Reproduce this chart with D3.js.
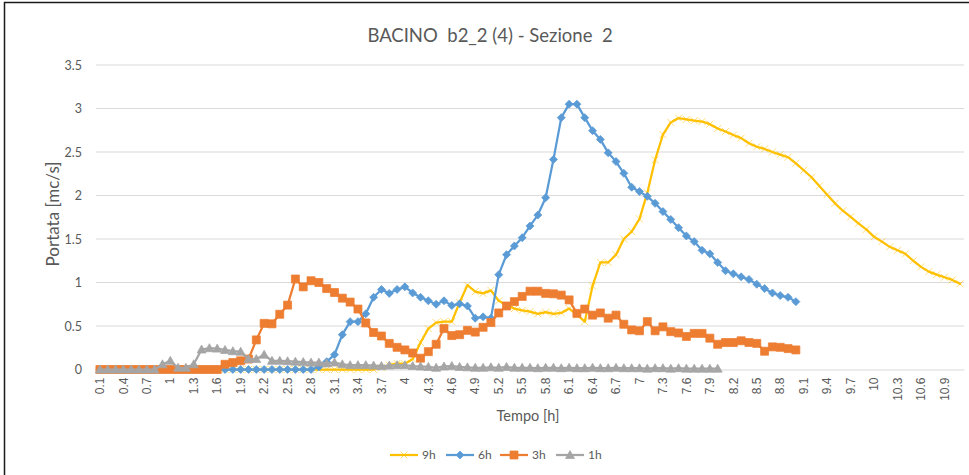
<!DOCTYPE html>
<html>
<head>
<meta charset="utf-8">
<script src="https://cdn.jsdelivr.net/npm/d3@7"></script>
<style>
  html, body { margin: 0; padding: 0; background: #fff; }
  svg { display: block; font-family: Lato, "Liberation Sans", sans-serif; }
</style>
</head>
<body>
<svg id="chart" width="969" height="475"></svg>
<script>
// Time steps on the category axis (hours)
const tempo = [
  "0.1","0.2","0.3","0.4","0.5","0.6","0.7","0.8","0.9","1",
  "1.1","1.2","1.3","1.4","1.5","1.6","1.7","1.8","1.9","2",
  "2.1","2.2","2.3","2.4","2.5","2.6","2.7","2.8","2.9","3",
  "3.1","3.2","3.3","3.4","3.5","3.6","3.7","3.8","3.9","4",
  "4.1","4.2","4.3","4.4","4.5","4.6","4.7","4.8","4.9","5",
  "5.1","5.2","5.3","5.4","5.5","5.6","5.7","5.8","5.9","6",
  "6.1","6.2","6.3","6.4","6.5","6.6","6.7","6.8","6.9","7",
  "7.1","7.2","7.3","7.4","7.5","7.6","7.7","7.8","7.9","8",
  "8.1","8.2","8.3","8.4","8.5","8.6","8.7","8.8","8.9","9",
  "9.1","9.2","9.3","9.4","9.5","9.6","9.7","9.8","9.9","10",
  "10.1","10.2","10.3","10.4","10.5","10.6","10.7","10.8","10.9","11",
  "11.1"
];

// Labelled ticks on the time axis
const xTickLabels = [
  "0.1","0.4","0.7","1","1.3","1.6","1.9","2.2","2.5","2.8","3.1","3.4","3.7","4",
  "4.3","4.6","4.9","5.2","5.5","5.8","6.1","6.4","6.7","7","7.3","7.6","7.9","8.2",
  "8.5","8.8","9.1","9.4","9.7","10","10.3","10.6","10.9"
];
const yTicks = [0, 0.5, 1, 1.5, 2, 2.5, 3, 3.5];

// Discharge [mc/s] for each rainfall duration
const q9h = [
  0,0,0,0,0,0,0,0,0,0, 0,0,0,0,0,0,0,0,0,0, 0,0,0,0,0,0,0,0,0,0, 0,0,0,0,0,0,
  0.02,0.05,0.07,0.065,0.12,0.31,0.47,0.54,0.55,0.55,
  0.77,0.97,0.895,0.875,0.91,0.79,0.74,0.70,0.68,0.665,
  0.64,0.66,0.64,0.65,0.70,0.63,0.55,0.96,1.23,1.23,
  1.32,1.50,1.585,1.73,2.03,2.41,2.70,2.84,2.89,2.875,
  2.86,2.85,2.82,2.77,2.735,2.695,2.66,2.60,2.56,2.535,
  2.50,2.47,2.44,2.37,2.29,2.21,2.11,2.01,1.91,1.825,
  1.755,1.68,1.61,1.525,1.47,1.41,1.37,1.33,1.25,1.18,
  1.125,1.09,1.06,1.03,0.985
];
const q6h = [
  0,0,0,0,0,0,0,0,0,0, 0,0,0,0,0,0,0,0,0,0, 0,0,0,0,0,0,0,0,
  0.03,0.09,0.17,0.40,0.55,0.55,0.64,0.83,0.92,0.875,
  0.92,0.95,0.88,0.83,0.79,0.75,0.79,0.735,0.755,0.73,
  0.59,0.605,0.59,1.09,1.32,1.42,1.515,1.65,1.775,1.975,
  2.415,2.895,3.05,3.05,2.895,2.745,2.645,2.49,2.39,2.255,
  2.095,2.045,1.99,1.91,1.815,1.725,1.63,1.535,1.47,1.37,
  1.33,1.23,1.135,1.10,1.065,1.035,0.98,0.93,0.88,0.85,
  0.83,0.78
];
const q3h = [
  0,0,0,0,0,0,0,0,0,0, 0,0,0,0,0,0,
  0.06,0.08,0.10,0.12,0.34,0.53,0.525,0.635,0.74,1.04,
  0.95,1.02,1.0,0.93,0.885,0.82,0.775,0.695,0.535,0.425,
  0.385,0.30,0.255,0.225,0.19,0.13,0.205,0.29,0.47,0.39,
  0.40,0.45,0.43,0.485,0.54,0.65,0.73,0.78,0.84,0.90,
  0.90,0.875,0.87,0.855,0.80,0.645,0.695,0.625,0.65,0.59,
  0.625,0.52,0.455,0.445,0.55,0.445,0.49,0.435,0.42,0.38,
  0.415,0.415,0.36,0.29,0.31,0.31,0.33,0.31,0.30,0.21,
  0.26,0.255,0.24,0.225
];
const q1h = [
  0,0,0,0,0,0,0,0,
  0.06,0.10,0.02,0.02,0.06,0.23,0.245,0.24,0.225,0.21,
  0.205,0.12,0.12,0.17,0.10,0.10,0.095,0.09,0.085,0.08,
  0.08,0.07,0.08,0.06,0.05,0.05,0.05,0.045,0.04,0.045,
  0.05,0.05,0.04,0.035,0.03,0.02,0.035,0.04,0.03,0.025,
  0.02,0.02,0.025,0.02,0.03,0.02,0.02,0.02,0.015,0.02,
  0.02,0.015,0.02,0.015,0.015,0.02,0.015,0.015,0.02,0.015,
  0.015,0.015,0.01,0.015,0.015,0.01,0.015,0.01,0.01,0.01,
  0.01,0.01
];

const seriesNames = ["9h", "6h", "3h", "1h"];
const seriesColors = ["#FFC000", "#5B9BD5", "#ED7D31", "#A5A5A5"];
const seriesMarkers = ["cross", "diamond", "square", "triangle"];
const seriesValues = [q9h, q6h, q3h, q1h];

const svg = d3.select("#chart");
const W = 969, H = 475;
const plot = { left: 96, right: 964, top: 65, bottom: 369.5 };
const textColor = "#595959";

// Chart frame (top and left edges of the bordered chart area)
svg.append("path")
  .attr("d", `M4.5,${H} V2.5 H${W}`)
  .attr("fill", "none")
  .attr("stroke", "#1a1a1a")
  .attr("stroke-width", 1.5);

const x = d3.scaleBand().domain(tempo).range([plot.left, plot.right]).paddingInner(0).paddingOuter(0);
const xc = d => x(d) + x.bandwidth() / 2;
const y = d3.scaleLinear().domain([0, 3.5]).range([plot.bottom, plot.top]);

// Horizontal gridlines
svg.append("g")
  .selectAll("line")
  .data(yTicks.filter(t => t > 0))
  .join("line")
  .attr("x1", plot.left).attr("x2", plot.right)
  .attr("y1", d => y(d)).attr("y2", d => y(d))
  .attr("stroke", "#d9d9d9").attr("stroke-width", 1);

// Y axis labels
const yAxis = svg.append("g")
  .attr("transform", `translate(${plot.left},0)`)
  .call(d3.axisLeft(y).tickValues(yTicks).tickSize(0).tickPadding(14).tickFormat(d3.format("")));
yAxis.select(".domain").remove();
yAxis.selectAll("text")
  .attr("fill", textColor)
  .style("font-size", "12.5px")
  .style("font-family", "Lato, 'Liberation Sans', sans-serif");

// X axis with vertical labels every third step
const xAxis = svg.append("g")
  .attr("transform", `translate(0,${plot.bottom})`)
  .call(d3.axisBottom(x).tickValues(xTickLabels).tickSize(0));
xAxis.select(".domain").attr("stroke", "#d9d9d9").attr("stroke-width", 1);
xAxis.selectAll("text")
  .attr("transform", "rotate(-90)")
  .attr("x", -8)
  .attr("y", 0)
  .attr("dy", "0.35em")
  .attr("text-anchor", "end")
  .attr("fill", textColor)
  .style("font-size", "12px")
  .style("font-family", "'Liberation Sans', Arial, sans-serif");

// Titles
svg.append("text")
  .attr("x", 490).attr("y", 42)
  .attr("text-anchor", "middle")
  .attr("fill", textColor)
  .style("font-size", "18.5px")
  .style("white-space", "pre")
  .attr("xml:space", "preserve")
  .text("BACINO  b2_2 (4) - Sezione  2");

svg.append("text")
  .attr("transform", `translate(59,214) rotate(-90)`)
  .attr("text-anchor", "middle")
  .attr("fill", textColor)
  .style("font-size", "17px")
  .text("Portata [mc/s]");

svg.append("text")
  .attr("x", 528).attr("y", 421)
  .attr("text-anchor", "middle")
  .attr("fill", textColor)
  .style("font-size", "14.5px")
  .text("Tempo [h]");

// Marker drawing helpers
function drawMarker(sel, kind, color) {
  if (kind === "cross") {
    sel.append("path")
      .attr("d", "M-3.5,-3.5L3.5,3.5M-3.5,3.5L3.5,-3.5")
      .attr("stroke", color).attr("stroke-opacity", 0.55)
      .attr("stroke-width", 1).attr("fill", "none");
  } else if (kind === "diamond") {
    sel.append("path")
      .attr("d", "M0,-4L4,0L0,4L-4,0Z")
      .attr("fill", color).attr("stroke", color).attr("stroke-width", 0.75);
  } else if (kind === "square") {
    sel.append("path")
      .attr("d", "M-4,-4H4V4H-4Z")
      .attr("fill", color).attr("stroke", color).attr("stroke-width", 0.75);
  } else if (kind === "triangle") {
    sel.append("path")
      .attr("d", "M0,-4.5L4.5,3.5L-4.5,3.5Z")
      .attr("fill", color).attr("stroke", color).attr("stroke-width", 0.75);
  }
}

const line = d3.line()
  .x((d, i) => xc(tempo[i]))
  .y(d => y(d));

seriesValues.forEach((vals, s) => {
  const g = svg.append("g").attr("class", "series-" + seriesNames[s]);
  g.append("path")
    .datum(vals)
    .attr("d", line)
    .attr("fill", "none")
    .attr("stroke", seriesColors[s])
    .attr("stroke-width", 2.25)
    .attr("stroke-linejoin", "round")
    .attr("stroke-linecap", "round");
  g.selectAll("g.pt")
    .data(vals)
    .join("g")
    .attr("class", "pt")
    .attr("transform", (d, i) => `translate(${xc(tempo[i])},${y(d)})`)
    .each(function () { drawMarker(d3.select(this), seriesMarkers[s], seriesColors[s]); });
});

// Legend
const legendX = [390, 446, 500, 556];
const legendY = 455;
seriesNames.forEach((name, s) => {
  const g = svg.append("g").attr("transform", `translate(${legendX[s]},${legendY})`);
  g.append("line")
    .attr("x1", 0).attr("x2", 28).attr("y1", 0).attr("y2", 0)
    .attr("stroke", seriesColors[s]).attr("stroke-width", 2.25);
  const m = g.append("g").attr("transform", "translate(14,0)");
  drawMarker(m, seriesMarkers[s], seriesColors[s]);
  g.append("text")
    .attr("x", 32).attr("y", 0).attr("dy", "0.35em")
    .attr("fill", textColor)
    .style("font-size", "12px")
    .text(name);
});
</script>
</body>
</html>
